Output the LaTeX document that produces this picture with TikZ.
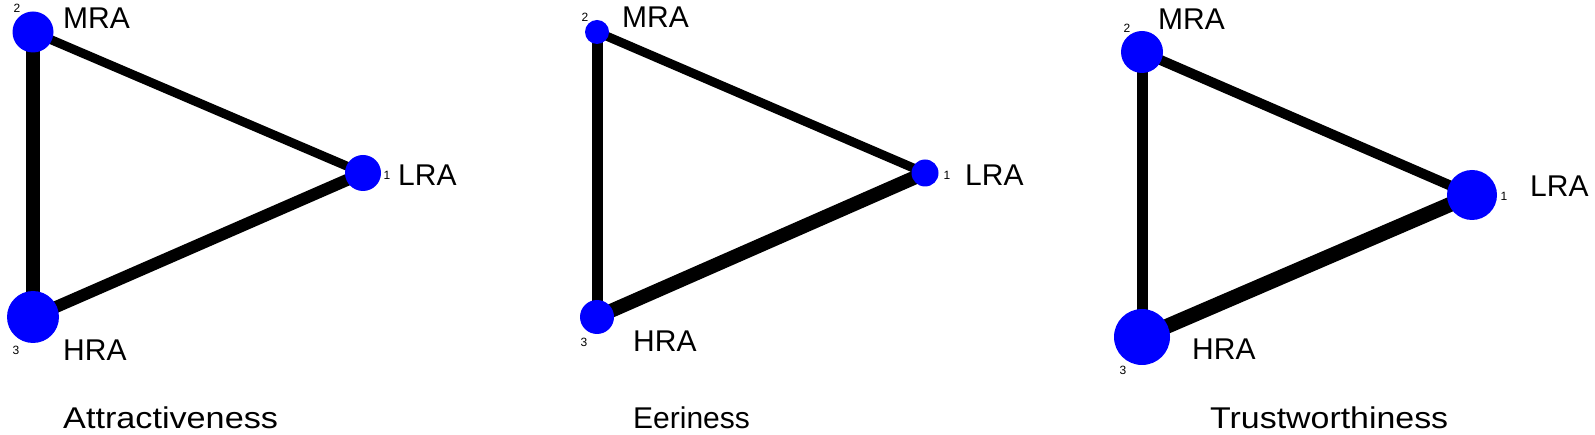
\documentclass[tikz,border=0pt]{standalone}
\usepackage{fontspec}
\setmainfont{Liberation Sans}
\usetikzlibrary{backgrounds}
\begin{document}
\begin{tikzpicture}[x=1pt,y=-1pt,
  nd/.style={circle,fill=blue,draw=none,inner sep=0pt,minimum size=#1},
  lab/.style={font=\fontsize{30}{30}\selectfont,anchor=west,inner sep=0pt},
  num/.style={font=\fontsize{12}{12}\selectfont,inner sep=0pt},
  ttl/.style={font=\fontsize{30}{30}\selectfont,anchor=base west,inner sep=0pt},
  edgew/.style={draw=black,line width=#1}]
\useasboundingbox (0,0) rectangle (1595,435);
% ---------- panel 1 ----------
\node[nd=36pt] (L1) at (363,173) {};
\node[nd=41pt] (M1) at (33,32) {};
\node[nd=52pt] (H1) at (33,317) {};
% ---------- panel 2 ----------
\node[nd=27pt] (L2) at (925,173) {};
\node[nd=24pt] (M2) at (597,32) {};
\node[nd=34pt] (H2) at (597,317) {};
% ---------- panel 3 ----------
\node[nd=50pt] (L3) at (1472,195) {};
\node[nd=42pt] (M3) at (1142,52) {};
\node[nd=56pt] (H3) at (1142,337) {};
% edges (behind the nodes)
\begin{scope}[on background layer]
\draw[edgew=9pt] (M1.center) -- (L1.center);
\draw[edgew=14pt] (M1.center) -- (H1.center);
\draw[edgew=12pt] (H1.center) -- (L1.center);
\draw[edgew=9pt] (M2.center) -- (L2.center);
\draw[edgew=11pt] (M2.center) -- (H2.center);
\draw[edgew=14pt] (H2.center) -- (L2.center);
\draw[edgew=10pt] (M3.center) -- (L3.center);
\draw[edgew=11pt] (M3.center) -- (H3.center);
\draw[edgew=15pt] (H3.center) -- (L3.center);
\end{scope}
% labels panel 1
\node[num] (n2a) at (17,8) {2};
\node[lab] (tM1) at (63,18) {MRA};
\node[num] (n1a) at (387,175) {1};
\node[lab] (tL1) at (398,175) {LRA};
\node[num] (n3a) at (16,350) {3};
\node[lab] (tH1) at (63,350) {HRA};
% labels panel 2
\node[num] (n2b) at (585,17) {2};
\node[lab] (tM2) at (622,17) {MRA};
\node[num] (n1b) at (947,175) {1};
\node[lab] (tL2) at (965,175) {LRA};
\node[num] (n3b) at (584,342) {3};
\node[lab] (tH2) at (633,341) {HRA};
% labels panel 3
\node[num] (n2c) at (1127,28) {2};
\node[lab] (tM3) at (1158,19) {MRA};
\node[num] (n1c) at (1504,196) {1};
\node[lab] (tL3) at (1530,186) {LRA};
\node[num] (n3c) at (1123,370) {3};
\node[lab] (tH3) at (1192,349) {HRA};
% titles
\node[ttl] (t1) at (63,428) {\scalebox{1.14}[1]{Attractiveness}};
\node[ttl] (t2) at (633,428) {Eeriness};
\node[ttl] (t3) at (1210,428) {\scalebox{1.13}[1]{Trustworthiness}};
\end{tikzpicture}
\end{document}
